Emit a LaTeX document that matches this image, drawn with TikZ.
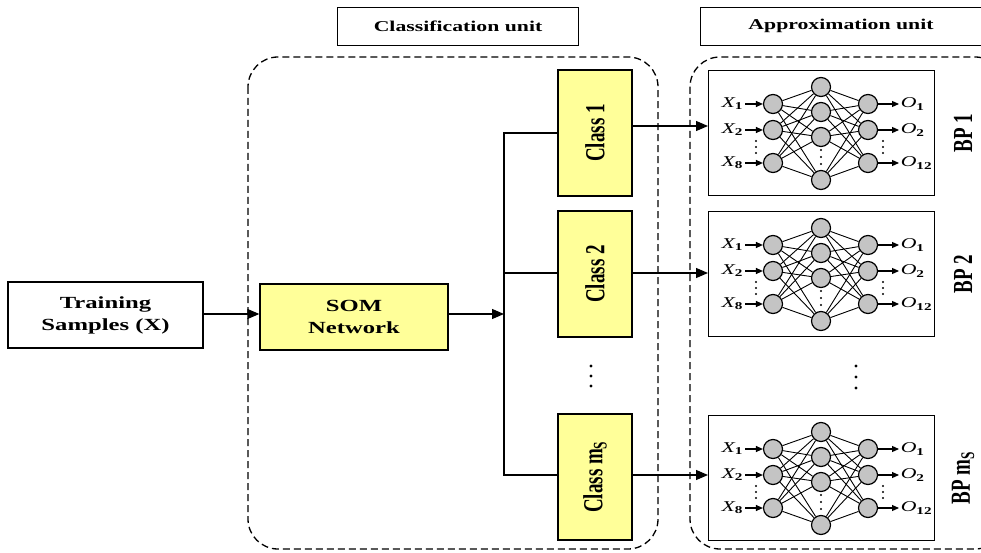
\documentclass[tikz,border=0pt]{standalone}
\usepackage{fontspec}
\setmainfont{Liberation Serif}
\usetikzlibrary{arrows.meta}

\definecolor{boxyellow}{HTML}{FFFF99}
\definecolor{neurongray}{HTML}{C4C4C4}

\tikzset{
  plainbox/.style={draw, line width=1.3pt, fill=white, inner sep=0pt},
  yellowbox/.style={draw, line width=1.3pt, fill=boxyellow, inner sep=0pt},
  unitbox/.style={draw, line width=1.1pt, fill=white, inner sep=0pt},
  widetext/.style={xscale=1.45},
  unitlab/.style={widetext, font=\fontsize{15}{17}\selectfont\bfseries},
  boxlab/.style={widetext, align=center, font=\fontsize{17}{22}\selectfont\bfseries},
  unitframe/.style={draw, dashed, dash pattern=on 7pt off 4pt, line width=1.3pt, rounded corners=30pt},
  neuron/.style={circle, draw, line width=1.2pt, fill=neurongray, minimum size=19pt, inner sep=0pt},
  wire/.style={line width=0.9pt},
  link/.style={line width=1.2pt},
  flow/.style={line width=1.2pt, -{Triangle[length=12pt,width=10pt]}},
  small arrow/.style={line width=1.1pt, -{Triangle[length=7pt,width=6pt]}},
  inlab/.style={widetext, inner sep=1pt, font=\fontsize{15}{17}\selectfont\itshape},
  sidelab/.style={rotate=90, yscale=1.45, font=\fontsize{19}{21}\selectfont\bfseries},
  dot/.style={circle, fill=black, inner sep=0pt, minimum size=3.2pt},
}

% one back-propagation network inside a box whose top edge is at y = #2
\newcommand\bpnet[2]{%
  \begin{scope}[shift={(0,#2)}]
    \node[neuron] (#1i1) at (773,34) {};
    \node[neuron] (#1i2) at (773,60) {};
    \node[neuron] (#1i3) at (773,93) {};
    \node[neuron] (#1h1) at (821,17) {};
    \node[neuron] (#1h2) at (821,42) {};
    \node[neuron] (#1h3) at (821,67) {};
    \node[neuron] (#1h4) at (821,110) {};
    \node[neuron] (#1o1) at (868,34) {};
    \node[neuron] (#1o2) at (868,60) {};
    \node[neuron] (#1o3) at (868,93) {};
    \foreach \a in {i1,i2,i3}{\foreach \b in {h1,h2,h3,h4}{\draw[wire] (#1\a) -- (#1\b);}}
    \foreach \a in {o1,o2,o3}{\foreach \b in {h1,h2,h3,h4}{\draw[wire] (#1\a) -- (#1\b);}}
    \node[inlab, anchor=east] (#1x1) at (745,34) {X\textsubscript{\bfseries\upshape 1}};
    \node[inlab, anchor=east] (#1x2) at (745,60) {X\textsubscript{\bfseries\upshape 2}};
    \node[inlab, anchor=east] (#1x3) at (745,93) {X\textsubscript{\bfseries\upshape 8}};
    \node[inlab, anchor=west] (#1y1) at (899,34) {O\textsubscript{\bfseries\upshape 1}};
    \node[inlab, anchor=west] (#1y2) at (899,60) {O\textsubscript{\bfseries\upshape 2}};
    \node[inlab, anchor=west] (#1y3) at (899,93) {O\textsubscript{\bfseries\upshape 12}};
    \foreach \k in {1,2,3}{
      \draw[small arrow] (#1x\k) -- (#1i\k);
      \draw[small arrow] (#1o\k) -- (#1y\k);
    }
    \foreach \yy in {71,77,83}{\node[dot, minimum size=2.4pt] (#1da\yy) at (756,\yy) {};}
    \foreach \yy in {80,87,94}{\node[dot, minimum size=2.4pt] (#1db\yy) at (821,\yy) {};}
    \foreach \yy in {71,77,83}{\node[dot, minimum size=2.4pt] (#1dc\yy) at (883,\yy) {};}
  \end{scope}}

\begin{document}
\begin{tikzpicture}[x=1pt, y=-1pt]
  \useasboundingbox (0,0) rectangle (981,553);
  \fill[white] (0,0) rectangle (981,553);

  % the two units
  \draw[unitframe] (248,57) rectangle (658,549);
  \begin{scope}
    \clip (0,0) rectangle (981,553);
    \draw[unitframe] (690,57) rectangle (1005,549);
    \node[unitbox, minimum width=285pt, minimum height=38pt, anchor=north west]
      (approxunit) at (700,7) {};
  \end{scope}
  \node[unitbox, minimum width=241pt, minimum height=38pt, anchor=north west] (classunit) at (337,7) {};
  \node[unitlab] (classtitle) at (classunit) {Classification unit};
  \node[unitlab] (approxtitle) at (841,26) {Approximation unit};

  % input and SOM
  \node[plainbox, minimum width=195pt, minimum height=66pt] (train) at (105.5,315) {};
  \node[boxlab] (traint) at (train) {Training\\Samples (X)};
  \node[yellowbox, minimum width=188pt, minimum height=66pt] (som) at (354,317) {};
  \node[boxlab] (somt) at (som) {SOM\\Network};
  \draw[flow] (train.east |- 0,314) -- (som.west |- 0,314);

  % class boxes
  \node[yellowbox, minimum width=74pt, minimum height=126pt] (c1) at (595,133) {};
  \node[yellowbox, minimum width=74pt, minimum height=126pt] (c2) at (595,274) {};
  \node[yellowbox, minimum width=74pt, minimum height=126pt] (c3) at (595,477) {};
  \node[sidelab] (c1t) at (c1) {Class 1};
  \node[sidelab] (c2t) at (c2) {Class 2};
  \node[sidelab] (c3t) at (c3) {Class m\textsubscript{S}};
  \foreach \yy in {366,376,386}{\node[dot] (cd\yy) at (591,\yy) {};}

  % distribution bus
  \coordinate (busmid) at (504,314);
  \coordinate (bustop) at (504,133);
  \coordinate (busbot) at (504,475);
  \draw[flow] (som.east |- busmid) -- (busmid);
  \draw[link] (c1.west |- bustop) -- (bustop) -- (busbot) -- (c3.west |- busbot);
  \draw[link] (c2.west |- 0,273) -- (504,273);

  % BP networks
  \node[plainbox, minimum width=226pt, minimum height=125pt, anchor=north west] (bp1) at (708,70) {};
  \node[plainbox, minimum width=226pt, minimum height=125pt, anchor=north west] (bp2) at (708,211) {};
  \node[plainbox, minimum width=226pt, minimum height=125pt, anchor=north west] (bp3) at (708,415) {};
  \bpnet{a}{70}
  \bpnet{b}{211}
  \bpnet{c}{415}
  \node[sidelab] (bp1t) at (963,133) {BP 1};
  \node[sidelab] (bp2t) at (963,274) {BP 2};
  \node[sidelab] (bp3t) at (963,478) {BP m\textsubscript{S}};
  \foreach \yy in {366,377,388}{\node[dot] (bd\yy) at (856,\yy) {};}

  \draw[flow] (c1.east |- 0,126) -- (bp1.west |- 0,126);
  \draw[flow] (c2.east |- 0,273) -- (bp2.west |- 0,273);
  \draw[flow] (c3.east |- 0,475) -- (bp3.west |- 0,475);
\end{tikzpicture}
\end{document}
